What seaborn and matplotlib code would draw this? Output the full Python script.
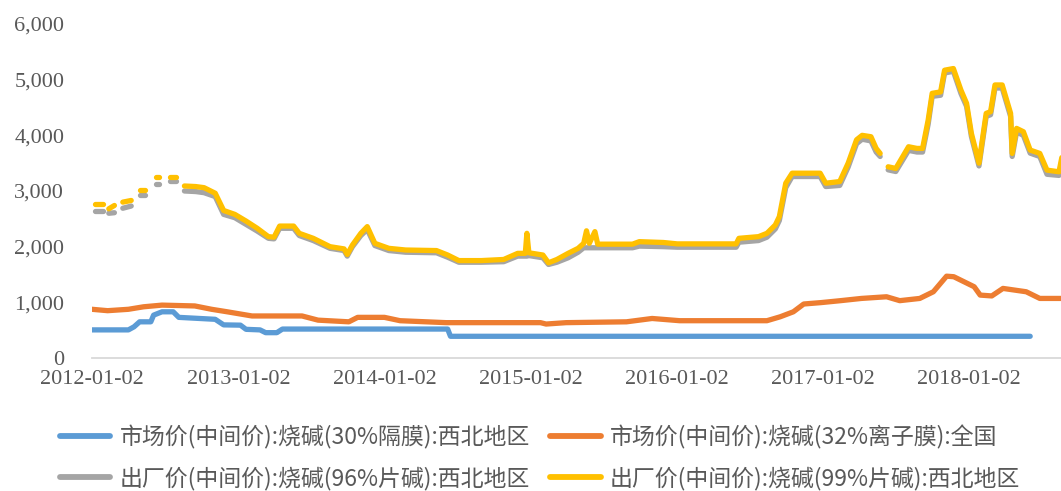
import numpy as np
import pandas as pd

import matplotlib as mpl
import matplotlib.pyplot as plt
import matplotlib.dates as mdates
from matplotlib.lines import Line2D
from matplotlib.ticker import FuncFormatter

import seaborn as sns

sns.set_style("white")

mpl.rcParams["font.family"] = ["Liberation Serif", "DejaVu Serif"]

BLUE = "#5B9BD5"
ORANGE = "#ED7D31"
GRAY = "#A5A5A5"
YELLOW = "#FFC000"
TEXT = "#595959"
AXIS = "#D9D9D9"

LABEL_30 = "市场价(中间价):烧碱(30%隔膜):西北地区"
LABEL_32 = "市场价(中间价):烧碱(32%离子膜):全国"
LABEL_96 = "出厂价(中间价):烧碱(96%片碱):西北地区"
LABEL_99 = "出厂价(中间价):烧碱(99%片碱):西北地区"

# --------------------------------------------------
# Data
# --------------------------------------------------

blue_dates = [
    "2012-01-02", "2012-04-02", "2012-04-16", "2012-04-30", "2012-05-28",
    "2012-06-04", "2012-06-25", "2012-07-23", "2012-08-06", "2012-11-05",
    "2012-11-26", "2013-01-07", "2013-01-21", "2013-02-25", "2013-03-11",
    "2013-04-08", "2013-04-22", "2014-06-09", "2014-06-16", "2018-06-04",
]
blue_values = [
    505, 505, 560, 650, 650, 770, 830, 830, 730, 695,
    595, 590, 515, 505, 455, 455, 520, 520, 390, 390,
]

orange_dates = [
    "2012-01-02", "2012-02-10", "2012-04-02", "2012-05-10", "2012-06-25",
    "2012-09-15", "2012-10-27", "2012-12-05", "2013-02-05", "2013-06-10",
    "2013-07-20", "2013-10-05", "2013-10-27", "2014-01-02", "2014-02-10",
    "2014-06-05", "2014-07-25", "2015-01-27", "2015-02-10", "2015-04-01",
    "2015-08-30", "2015-11-02", "2016-01-10", "2016-08-15", "2016-09-17",
    "2016-10-20", "2016-11-15", "2016-12-28", "2017-02-15", "2017-04-08",
    "2017-06-10", "2017-07-13", "2017-09-01", "2017-10-05", "2017-11-07",
    "2017-11-25", "2018-01-15", "2018-01-30", "2018-02-28", "2018-03-28",
    "2018-05-25", "2018-06-28", "2018-08-20",
]
orange_values = [
    875, 850, 875, 920, 950, 935, 875, 830, 755, 755,
    680, 650, 730, 730, 670, 635, 635, 635, 610, 635,
    650, 710, 670, 670, 740, 830, 970, 995, 1030, 1070,
    1100, 1030, 1070, 1190, 1470, 1460, 1280, 1130, 1115, 1250,
    1190, 1070, 1070,
]

# shared dates for the two factory-price series (NaN = gap in the data)
factory_dates = [
    "2012-01-09", "2012-01-30", "2012-02-06", "2012-02-13", "2012-02-27",
    "2012-03-05", "2012-03-19", "2012-04-09", "2012-04-16", "2012-04-30",
    "2012-05-14", "2012-05-21", "2012-06-11", "2012-06-18", "2012-06-25",
    "2012-07-16", "2012-07-30", "2012-08-06", "2012-08-20", "2012-09-17",
    "2012-10-08", "2012-11-05", "2012-11-26", "2012-12-24", "2013-01-21",
    "2013-02-18", "2013-03-18", "2013-04-01", "2013-04-15", "2013-05-20",
    "2013-06-03", "2013-07-08", "2013-08-19", "2013-09-23", "2013-10-01",
    "2013-10-14", "2013-11-04", "2013-11-20", "2013-12-09", "2014-01-13",
    "2014-02-24", "2014-05-12", "2014-06-09", "2014-07-07", "2014-09-01",
    "2014-10-27", "2014-12-01", "2014-12-20", "2014-12-24", "2014-12-29",
    "2015-02-02", "2015-02-16", "2015-03-09", "2015-04-06", "2015-05-01",
    "2015-05-15", "2015-05-22", "2015-05-29", "2015-06-12", "2015-06-19",
    "2015-09-14", "2015-10-01", "2015-11-30", "2016-01-04", "2016-05-30",
    "2016-06-06", "2016-07-25", "2016-08-15", "2016-09-05", "2016-09-15",
    "2016-10-01", "2016-10-17", "2016-12-26", "2017-01-09", "2017-02-13",
    "2017-03-06", "2017-03-27", "2017-04-10", "2017-05-02", "2017-05-15",
    "2017-05-25", "2017-06-05", "2017-06-14", "2017-07-03", "2017-08-04",
    "2017-08-25", "2017-09-08", "2017-09-22", "2017-10-02", "2017-10-23",
    "2017-11-02", "2017-11-24", "2017-12-13", "2017-12-27", "2018-01-08",
    "2018-01-27", "2018-02-14", "2018-02-25", "2018-03-08", "2018-03-26",
    "2018-04-16", "2018-04-20", "2018-05-01", "2018-05-18", "2018-06-04",
    "2018-06-28", "2018-07-16", "2018-08-15", "2018-08-22",
]
yellow_values = [
    2760, 2760, np.nan, 2680, 2740, np.nan, 2800, 2830, np.nan, 3010,
    3010, np.nan, 3250, 3250, np.nan, 3250, 3250, np.nan, 3090, 3080,
    3060, 2960, 2650, 2580, 2460, 2330, 2180, 2170, 2370, 2370,
    2240, 2150, 2000, 1960, 1860, 2030, 2240, 2360, 2060, 1970,
    1940, 1930, 1850, 1750, 1750, 1770, 1880, 1880, 2240, 1890,
    1850, 1710, 1770, 1880, 1970, 2060, 2285, 2060, 2270, 2045,
    2045, 2090, 2075, 2050, 2050, 2150, 2180, 2240, 2390, 2540,
    3140, 3320, 3320, 3140, 3170, 3500, 3920, 4000, 3975, 3765,
    3675, np.nan, 3435, 3405, 3795, 3765, 3765, 4275, 4755, 4780,
    5170, 5200, 4810, 4575, 4035, 3500, 4395, 4425, 4905, 4905,
    4395, 3675, 4125, 4065, 3735, 3675, 3375, 3345, 3600,
]
gray_values = [
    2640, 2640, np.nan, 2600, 2610, np.nan, 2690, 2730, np.nan, 2920,
    2920, np.nan, 3120, 3120, np.nan, 3180, 3180, np.nan, 3000, 2990,
    2970, 2900, 2580, 2520, 2400, 2280, 2150, 2140, 2330, 2330,
    2200, 2110, 1970, 1930, 1830, 2000, 2200, 2310, 2020, 1930,
    1900, 1890, 1810, 1720, 1720, 1730, 1830, 1830, 1830, 1840,
    1800, 1680, 1720, 1800, 1900, 1980, 1980, 1980, 1980, 1980,
    1980, 2010, 2000, 1990, 1990, 2080, 2110, 2170, 2320, 2470,
    3060, 3260, 3260, 3080, 3100, 3430, 3850, 3930, 3900, 3700,
    3620, np.nan, 3380, 3350, 3730, 3700, 3700, 4200, 4700, 4720,
    5120, 5150, 4750, 4520, 3980, 3450, 4340, 4370, 4850, 4850,
    4340, 3620, 4060, 4000, 3680, 3620, 3300, 3280, 3540,
]

year_ticks = [
    "2012-01-02", "2013-01-02", "2014-01-02", "2015-01-02",
    "2016-01-02", "2017-01-02", "2018-01-02",
]


def to_frame(name, dates, values):
    part = pd.DataFrame({
        "date": pd.to_datetime(dates),
        "value": values,
    })
    # split into segments at the gaps
    part["seg"] = name + "_" + part["value"].isna().cumsum().astype(str)
    part["series"] = name
    return part.dropna()


df = pd.concat([
    to_frame(LABEL_30, blue_dates, blue_values),
    to_frame(LABEL_32, orange_dates, orange_values),
    to_frame(LABEL_96, factory_dates, gray_values),
    to_frame(LABEL_99, factory_dates, yellow_values),
], ignore_index=True)

palette = {
    LABEL_30: BLUE,
    LABEL_32: ORANGE,
    LABEL_96: GRAY,
    LABEL_99: YELLOW,
}

# --------------------------------------------------
# Figure
# --------------------------------------------------

fig = plt.figure(figsize=(10.61, 4.91), dpi=100)

ax = fig.add_axes([
    92 / 1061,
    1 - 358 / 491,
    1 - 92 / 1061,
    (358 - 24) / 491,
])

sns.lineplot(
    data=df,
    x="date",
    y="value",
    hue="series",
    units="seg",
    estimator=None,
    hue_order=[LABEL_30, LABEL_32, LABEL_96, LABEL_99],
    palette=palette,
    linewidth=3.8,
    solid_capstyle="round",
    legend=False,
    ax=ax
)

ax.set_xlim(
    pd.Timestamp("2012-01-02"),
    pd.Timestamp("2018-08-20")
)
ax.set_ylim(0, 6000)
ax.set_yticks(range(0, 6001, 1000))
ax.yaxis.set_major_formatter(
    FuncFormatter(lambda v, p: f"{v:,.0f}")
)

ax.set_xticks(pd.to_datetime(year_ticks))
ax.xaxis.set_major_formatter(mdates.DateFormatter("%Y-%m-%d"))

ax.set_xlabel("")
ax.set_ylabel("")

for side in ["top", "right", "left"]:
    ax.spines[side].set_visible(False)

ax.spines["bottom"].set_color(AXIS)
ax.spines["bottom"].set_linewidth(1.3)

ax.tick_params(
    axis="y",
    length=0,
    pad=20,
    labelsize=16,
    labelcolor=TEXT
)
ax.tick_params(
    axis="x",
    direction="out",
    length=5,
    width=1.2,
    color=AXIS,
    pad=4,
    labelsize=16,
    labelcolor=TEXT
)

ax.grid(False)

# Legend (column-major fill -> row 1: blue, orange / row 2: gray, yellow)
handles = [
    Line2D([], [], color=BLUE, linewidth=4.2, solid_capstyle="round"),
    Line2D([], [], color=GRAY, linewidth=4.2, solid_capstyle="round"),
    Line2D([], [], color=ORANGE, linewidth=4.2, solid_capstyle="round"),
    Line2D([], [], color=YELLOW, linewidth=4.2, solid_capstyle="round"),
]
legend_labels = [LABEL_30, LABEL_96, LABEL_32, LABEL_99]

fig.legend(
    handles,
    legend_labels,
    ncol=2,
    loc="upper left",
    bbox_to_anchor=(60 / 1061, 1 - 425 / 491),
    frameon=False,
    borderpad=0,
    borderaxespad=0,
    handlelength=2.2,
    handletextpad=0.4,
    columnspacing=0.9,
    labelspacing=0.75,
    prop={"family": ["Noto Sans CJK SC", "DejaVu Sans"], "size": 16.5},
    labelcolor=TEXT
)

fig.savefig("out.png", dpi=100)
plt.close(fig)
